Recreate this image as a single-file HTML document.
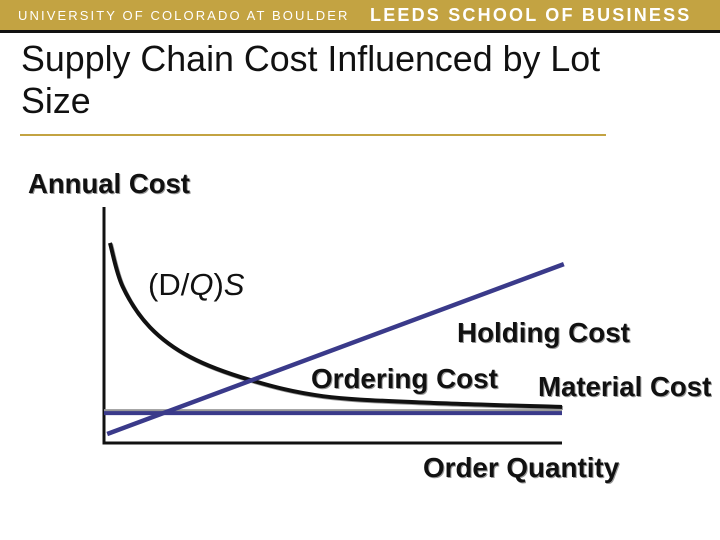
<!DOCTYPE html>
<html><head><meta charset="utf-8"><style>
body{margin:0;width:720px;height:540px;overflow:hidden;background:#fff;font-family:"Liberation Sans",sans-serif;position:relative}
.hdr{position:absolute;left:0;top:0;width:720px;height:30px;background:#c3a342;border-bottom:3px solid #111}
.t{position:absolute;white-space:nowrap}
</style></head><body>
<div class="hdr">
<span class="t" style="left:18px;top:8px;font-size:13px;letter-spacing:2.1px;color:#fff">UNIVERSITY OF COLORADO AT BOULDER</span>
<span class="t" style="left:370px;top:5px;font-size:18px;font-weight:bold;letter-spacing:2.2px;color:#fff">LEEDS SCHOOL OF BUSINESS</span>
</div>
<div class="t" style="left:21px;top:38px;font-size:35.8px;line-height:42px;color:#111">Supply Chain Cost Influenced by Lot<br>Size</div>
<div style="position:absolute;left:20px;top:134px;width:586px;height:2px;background:#c3a342"></div>
<svg width="720" height="540" style="position:absolute;left:0;top:0">
<g id="g"></g>
<text x="28" y="193" font-size="27.5" font-weight="bold" fill="#999" dx="1" dy="1">Annual Cost</text>
<text x="28" y="193" font-size="27.5" font-weight="bold" fill="#111">Annual Cost</text>
<text x="148" y="295" font-size="31" fill="#111">(D/<tspan font-style="italic">Q</tspan>)<tspan font-style="italic">S</tspan></text>
<text x="457" y="342" font-size="27.8" font-weight="bold" fill="#999" dx="1" dy="1">Holding Cost</text>
<text x="457" y="342" font-size="27.8" font-weight="bold" fill="#111">Holding Cost</text>
<text x="311" y="388" font-size="27.8" font-weight="bold" fill="#999" dx="1" dy="1">Ordering Cost</text>
<text x="311" y="388" font-size="27.8" font-weight="bold" fill="#111">Ordering Cost</text>
<text x="538" y="396" font-size="27.6" font-weight="bold" fill="#999" dx="1" dy="1">Material Cost</text>
<text x="538" y="396" font-size="27.6" font-weight="bold" fill="#111">Material Cost</text>
<text x="423" y="477" font-size="27.8" font-weight="bold" fill="#999" dx="1" dy="1">Order Quantity</text>
<text x="423" y="477" font-size="27.8" font-weight="bold" fill="#111">Order Quantity</text>
</svg>
<script>
const orderQ=[0.13,0.41,1.00,1.88,3.19,4.78,6.97,10.0];
const orderCost=[8.47,6.60,4.89,3.62,2.64,1.95,1.68,1.49];
const holdQ=[0.07,10.04];
const holdCost=[0.34,7.57];
const matQ=[0,10];
const matCost=[1.23,1.23];
const X=q=>104+q*45.8, Y=c=>442-c*23.5;
const g=document.getElementById('g');
const NS='http://www.w3.org/2000/svg';
function mk(tag,attrs,name){const e=document.createElementNS(NS,tag);for(const k in attrs)e.setAttribute(k,attrs[k]);


g.appendChild(e);return e;}
function spline(qs,cs){const p=qs.map((q,i)=>[X(q),Y(cs[i])]);let d='M'+p[0];for(let i=0;i<p.length-1;i++){const a=p[i-1]||p[i],b=p[i],c=p[i+1],e=p[i+2]||c;
d+=' C'+(b[0]+(c[0]-a[0])/6)+','+(b[1]+(c[1]-a[1])/6)+' '+(c[0]-(e[0]-b[0])/6)+','+(c[1]-(e[1]-b[1])/6)+' '+c[0]+','+c[1];}return d;}
function line(qs,cs){return 'M'+qs.map((q,i)=>X(q)+','+Y(cs[i])).join(' L');}
mk('path',{d:'M104,207 L104,443 L562,443',fill:'none',stroke:'#111','stroke-width':3},'axes');
mk('path',{d:line(matQ,matCost),fill:'none',stroke:'#999','stroke-width':4,transform:'translate(0,-2)'},'material-cost-shadow');
mk('path',{d:line(matQ,matCost),fill:'none',stroke:'#3a3a8a','stroke-width':4},'material-cost-line');
mk('path',{d:spline(orderQ,orderCost),fill:'none',stroke:'#999','stroke-width':4,transform:'translate(1,1)'},'ordering-cost-shadow');
mk('path',{d:spline(orderQ,orderCost),fill:'none',stroke:'#111','stroke-width':4},'ordering-cost-curve');
mk('path',{d:line(holdQ,holdCost),fill:'none',stroke:'#3a3a8a','stroke-width':4.5},'holding-cost-line');
</script>
</body></html>
